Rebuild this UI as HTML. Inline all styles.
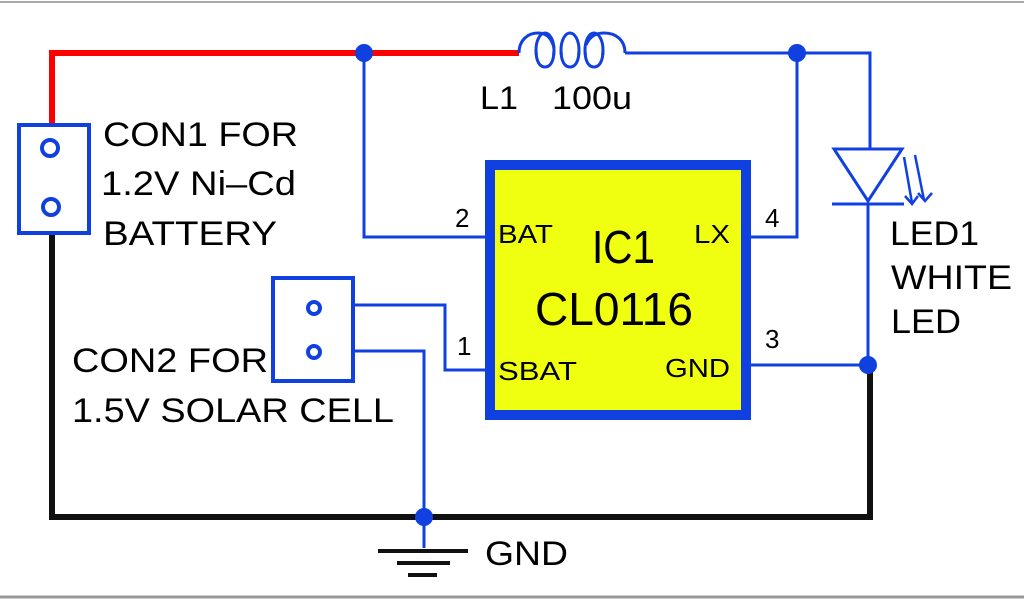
<!DOCTYPE html>
<html><head><meta charset="utf-8"><style>
html,body{margin:0;padding:0;background:#fff;}
svg{display:block}
text{font-family:"Liberation Sans",Arial,sans-serif;fill:#000}
</style></head><body>
<svg width="1024" height="600" viewBox="0 0 1024 600" xmlns="http://www.w3.org/2000/svg">
<rect width="1024" height="600" fill="#fff"/>
<line x1="0" y1="2" x2="1024" y2="2" stroke="#aaa" stroke-width="2"/>
<line x1="0" y1="597" x2="1024" y2="597" stroke="#999" stroke-width="3"/>
<!-- red wire -->
<polyline points="52,125 52,53 519,53" fill="none" stroke="#f00" stroke-width="6"/>
<!-- black ground wire -->
<polyline points="52,234 52,517 870,517 870,365" fill="none" stroke="#111" stroke-width="6"/>
<!-- blue wires -->
<g fill="none" stroke="#1040e0" stroke-width="3">
<polyline points="364,53 364,237 487,237"/>
<polyline points="750,237 797,237 797,53"/>
<polyline points="625,53 870,53 870,148"/>
<polyline points="868,204 868,365 750,365"/>
<polyline points="354,305 445,305 445,370 487,370"/>
<polyline points="354,351 424,351 424,548"/>
<!-- inductor -->
<path d="M519,53 C519,40 528,33 538,33 C548,33 552,40 554,48"/>
<ellipse cx="545" cy="50" rx="9" ry="17"/>
<ellipse cx="570" cy="50" rx="9" ry="17"/>
<ellipse cx="594" cy="50" rx="9" ry="17"/>
<path d="M586,45 C590,36 596,33 604,33 C616,33 625,40 625,53"/>
</g>
<rect x="535" y="55" width="68" height="16" fill="#fff"/>
<g fill="none" stroke="#1040e0" stroke-width="3">
<path d="M536,50 C536,62 540,67 545,67 C550,67 554,62 554,50"/>
<path d="M561,50 C561,62 565,67 570,67 C575,67 579,62 579,50"/>
<path d="M585,50 C585,62 589,67 594,67 C599,67 603,62 603,50"/>
</g>
<!-- CON1 -->
<rect x="19" y="125" width="70" height="108" fill="#fff" stroke="#1040e0" stroke-width="4"/>
<circle cx="50" cy="148" r="8" fill="none" stroke="#1040e0" stroke-width="4"/>
<circle cx="51" cy="207" r="8" fill="none" stroke="#1040e0" stroke-width="4"/>
<!-- CON2 -->
<rect x="273" y="278" width="80" height="103" fill="#fff" stroke="#1040e0" stroke-width="4"/>
<circle cx="314" cy="308" r="6" fill="none" stroke="#1040e0" stroke-width="4"/>
<circle cx="314" cy="352" r="6" fill="none" stroke="#1040e0" stroke-width="4"/>
<!-- IC -->
<rect x="490" y="165" width="256" height="250" fill="#f0ff10" stroke="#1040e0" stroke-width="10"/>
<!-- LED -->
<polygon points="834,149 902,149 868,201" fill="none" stroke="#1040e0" stroke-width="3"/>
<line x1="832" y1="204" x2="904" y2="204" stroke="#1040e0" stroke-width="3"/>
<g stroke="#1040e0" stroke-width="2.5" fill="none">
<line x1="904" y1="157" x2="912" y2="203"/>
<line x1="915" y1="155" x2="924" y2="200"/>
<polyline points="905,196 912,204 918,196"/>
<polyline points="918,193 925,201 932,193"/>
</g>
<!-- dots -->
<g fill="#1040e0">
<circle cx="364" cy="53" r="9"/>
<circle cx="797" cy="53" r="9"/>
<circle cx="868" cy="365" r="9"/>
<circle cx="424" cy="517" r="9"/>
</g>
<!-- ground symbol -->
<g stroke="#111" stroke-width="4">
<line x1="378" y1="551" x2="468" y2="551"/>
<line x1="397" y1="563" x2="450" y2="563"/>
<line x1="408" y1="575" x2="437" y2="575"/>
</g>
<!-- text -->
<g font-size="34" lengthAdjust="spacingAndGlyphs">
<text x="103" y="146" textLength="195" lengthAdjust="spacingAndGlyphs">CON1 FOR</text>
<text x="101" y="195" textLength="195" lengthAdjust="spacingAndGlyphs">1.2V Ni–Cd</text>
<text x="103" y="245" textLength="174" lengthAdjust="spacingAndGlyphs">BATTERY</text>
<text x="480" y="109" textLength="38" lengthAdjust="spacingAndGlyphs" font-size="32">L1</text>
<text x="552" y="109" textLength="80" lengthAdjust="spacingAndGlyphs" font-size="32">100u</text>
<text x="890" y="245" textLength="89" lengthAdjust="spacingAndGlyphs">LED1</text>
<text x="891" y="289" textLength="121" lengthAdjust="spacingAndGlyphs">WHITE</text>
<text x="891" y="333" textLength="70" lengthAdjust="spacingAndGlyphs">LED</text>
<text x="72" y="372" textLength="196" lengthAdjust="spacingAndGlyphs">CON2 FOR</text>
<text x="72" y="422" textLength="322" lengthAdjust="spacingAndGlyphs">1.5V SOLAR CELL</text>
<text x="485" y="565" textLength="83" lengthAdjust="spacingAndGlyphs">GND</text>
</g>
<g font-size="26">
<text x="455" y="227">2</text>
<text x="765" y="227">4</text>
<text x="457" y="355">1</text>
<text x="765" y="348">3</text>
<text x="498" y="243" textLength="55" lengthAdjust="spacingAndGlyphs">BAT</text>
<text x="694" y="243" textLength="36" lengthAdjust="spacingAndGlyphs">LX</text>
<text x="498" y="380" textLength="79" lengthAdjust="spacingAndGlyphs">SBAT</text>
<text x="665" y="377" textLength="65" lengthAdjust="spacingAndGlyphs">GND</text>
</g>
<text x="592" y="263" font-size="46" textLength="63" lengthAdjust="spacingAndGlyphs">IC1</text>
<text x="535" y="325" font-size="46" textLength="158" lengthAdjust="spacingAndGlyphs">CL0116</text>
</svg>
</body></html>
